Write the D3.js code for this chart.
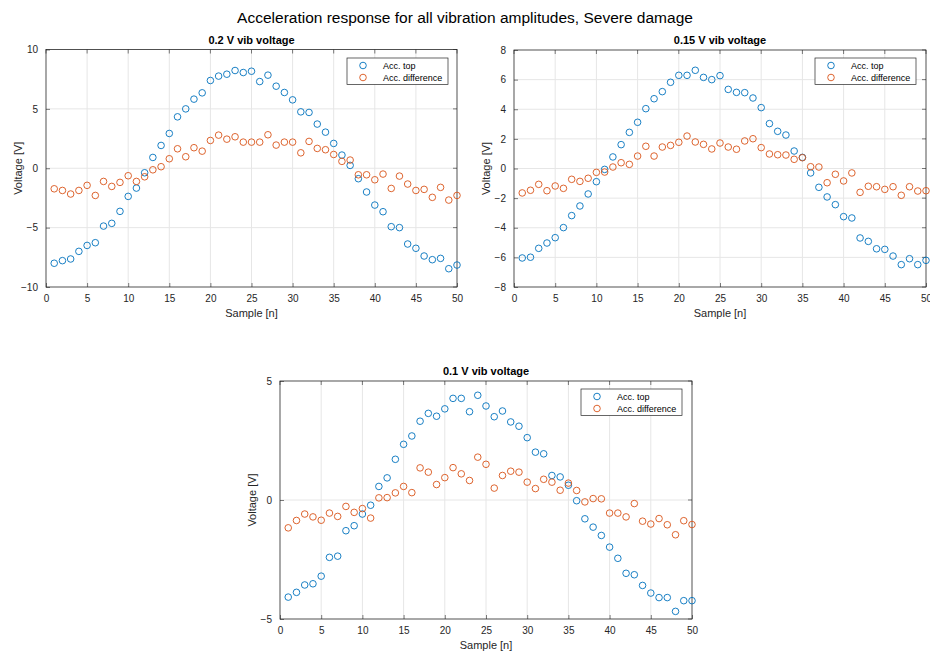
<!DOCTYPE html>
<html>
<head>
<meta charset="utf-8">
<script src="https://cdn.jsdelivr.net/npm/d3@7"></script>
<style>
  html, body { margin: 0; padding: 0; background: #ffffff; }
  svg { display: block; font-family: "Liberation Sans", Arial, Helvetica, sans-serif; }
</style>
</head>
<body>
<svg id="fig" width="930" height="655"></svg>
<script>
// Sample index shared by every panel
const samples = d3.range(1, 51);

// 0.2 V vibration voltage
const top02 = [-8.0, -7.78, -7.64, -7.0, -6.5, -6.27, -4.87, -4.64, -3.63, -2.37,
  -1.67, -0.38, 0.91, 1.92, 2.93, 4.33, 5.0, 5.82, 6.35, 7.39,
  7.76, 7.92, 8.23, 8.06, 8.17, 7.3, 7.84, 6.91, 6.38, 5.76,
  4.75, 4.7, 3.72, 3.04, 2.09, 1.11, 0.24, -0.88, -2.0, -3.1,
  -3.66, -4.92, -5.0, -6.38, -6.74, -7.39, -7.7, -7.59, -8.46, -8.15];
const diff02 = [-1.73, -1.87, -2.17, -1.87, -1.44, -2.29, -1.11, -1.53, -1.19, -0.63,
  -1.11, -0.72, -0.13, 0.13, 0.8, 1.64, 0.97, 1.73, 1.44, 2.34,
  2.79, 2.45, 2.65, 2.2, 2.2, 2.2, 2.82, 1.95, 2.2, 2.2,
  1.3, 2.26, 1.67, 1.56, 1.16, 0.58, 0.69, -0.55, -0.55, -0.97,
  -0.49, -1.7, -0.66, -1.33, -1.87, -1.78, -2.45, -1.61, -2.68, -2.29];

// 0.15 V vibration voltage
const top015 = [-6.04, -5.99, -5.39, -5.03, -4.67, -3.99, -3.18, -2.53, -1.72, -0.89,
  -0.06, 0.78, 1.61, 2.44, 3.12, 4.04, 4.71, 5.19, 5.82, 6.29,
  6.29, 6.63, 6.15, 6.0, 6.27, 5.34, 5.14, 5.12, 4.76, 4.11,
  3.03, 2.51, 2.26, 1.18, 0.75, -0.3, -1.27, -1.92, -2.44, -3.25,
  -3.34, -4.69, -4.92, -5.42, -5.46, -5.91, -6.49, -6.09, -6.49, -6.2];
const diff015 = [-1.65, -1.47, -1.07, -1.5, -1.18, -1.34, -0.73, -0.87, -0.66, -0.26,
  -0.24, 0.1, 0.39, 0.28, 0.84, 1.5, 0.84, 1.45, 1.56, 1.77,
  2.19, 1.79, 1.63, 1.32, 1.72, 1.45, 1.3, 1.86, 2.01, 1.41,
  0.98, 0.93, 0.91, 0.62, 0.73, 0.12, 0.1, -0.96, -0.39, -0.84,
  -0.3, -1.61, -1.2, -1.23, -1.41, -1.23, -1.81, -1.23, -1.52, -1.5];

// 0.1 V vibration voltage
const top01 = [-4.08, -3.88, -3.57, -3.52, -3.2, -2.41, -2.36, -1.29, -1.08, -0.59,
  -0.22, 0.57, 0.93, 1.71, 2.34, 2.69, 3.31, 3.64, 3.52, 3.83,
  4.27, 4.27, 3.71, 4.4, 3.95, 3.5, 3.74, 3.28, 3.1, 2.62,
  2.01, 1.94, 1.03, 0.97, 0.62, -0.03, -0.79, -1.14, -1.49, -1.98,
  -2.45, -3.08, -3.14, -3.59, -3.91, -4.1, -4.1, -4.68, -4.23, -4.23];
const diff01 = [-1.17, -0.86, -0.59, -0.71, -0.85, -0.55, -0.69, -0.27, -0.52, -0.36,
  -0.76, 0.09, 0.1, 0.3, 0.57, 0.31, 1.35, 1.17, 0.65, 0.94,
  1.36, 1.1, 0.82, 1.8, 1.5, 0.5, 1.03, 1.21, 1.17, 0.75,
  0.48, 0.87, 0.75, 0.41, 0.71, 0.4, -0.08, 0.06, 0.05, -0.55,
  -0.55, -0.71, -0.15, -0.89, -1.01, -0.78, -1.04, -1.46, -0.87, -1.03];

// Axis tick labels
const xTicks = [0, 5, 10, 15, 20, 25, 30, 35, 40, 45, 50];
const yTicks02 = [-10, -5, 0, 5, 10];
const yTicks015 = [-8, -6, -4, -2, 0, 2, 4, 6, 8];
const yTicks01 = [-5, 0, 5];

const seriesNames = ["Acc. top", "Acc. difference"];
const seriesColors = ["#0072BD", "#D95319"];

const panels = [
  { title: "0.2 V vib voltage", top: top02, diff: diff02, yDomain: [-10, 10], yTicks: yTicks02,
    box: { x0: 46, x1: 457, y0: 49.5, y1: 287 }, legend: { x: 347, y: 58 } },
  { title: "0.15 V vib voltage", top: top015, diff: diff015, yDomain: [-8, 8], yTicks: yTicks015,
    box: { x0: 514, x1: 926, y0: 50, y1: 287 }, legend: { x: 815, y: 58 } },
  { title: "0.1 V vib voltage", top: top01, diff: diff01, yDomain: [-5, 5], yTicks: yTicks01,
    box: { x0: 280, x1: 692, y0: 381, y1: 619 }, legend: { x: 581, y: 389 } }
];

const svg = d3.select("#fig");
const axisColor = "#262626";

svg.append("text")
  .attr("x", 465).attr("y", 23)
  .attr("text-anchor", "middle")
  .attr("font-size", 15.5)
  .attr("fill", "#000")
  .text("Acceleration response for all vibration amplitudes, Severe damage");

panels.forEach(p => {
  const b = p.box;
  const x = d3.scaleLinear().domain([0, 50]).range([b.x0, b.x1]);
  const y = d3.scaleLinear().domain(p.yDomain).range([b.y1, b.y0]);
  const g = svg.append("g");

  // grid
  g.append("g").selectAll("line").data(xTicks.slice(1, -1)).join("line")
    .attr("x1", d => x(d)).attr("x2", d => x(d))
    .attr("y1", b.y0).attr("y2", b.y1)
    .attr("stroke", "#e6e6e6").attr("stroke-width", 1);
  g.append("g").selectAll("line").data(p.yTicks.slice(1, -1)).join("line")
    .attr("x1", b.x0).attr("x2", b.x1)
    .attr("y1", d => y(d)).attr("y2", d => y(d))
    .attr("stroke", "#e6e6e6").attr("stroke-width", 1);

  // axes with inward ticks
  const xAxis = d3.axisBottom(x).tickValues(xTicks).tickSizeInner(-4).tickSizeOuter(0).tickPadding(8);
  const yAxis = d3.axisLeft(y).tickValues(p.yTicks).tickSizeInner(-4).tickSizeOuter(0).tickPadding(8);
  const gx = g.append("g").attr("transform", `translate(0,${b.y1})`).call(xAxis);
  const gy = g.append("g").attr("transform", `translate(${b.x0},0)`).call(yAxis);
  [gx, gy].forEach(a => {
    a.select(".domain").remove();
    a.selectAll(".tick line").attr("stroke", axisColor).attr("stroke-width", 0.6);
    a.selectAll(".tick text").attr("fill", axisColor).attr("font-size", 10)
      .attr("font-family", "'Liberation Sans', Arial, sans-serif");
  });
  // top/right ticks
  g.append("g").selectAll("line").data(xTicks).join("line")
    .attr("x1", d => x(d)).attr("x2", d => x(d))
    .attr("y1", b.y0).attr("y2", b.y0 + 4)
    .attr("stroke", axisColor).attr("stroke-width", 0.6);
  g.append("g").selectAll("line").data(p.yTicks).join("line")
    .attr("x1", b.x1 - 4).attr("x2", b.x1)
    .attr("y1", d => y(d)).attr("y2", d => y(d))
    .attr("stroke", axisColor).attr("stroke-width", 0.6);

  // box
  g.append("rect")
    .attr("x", b.x0).attr("y", b.y0)
    .attr("width", b.x1 - b.x0).attr("height", b.y1 - b.y0)
    .attr("fill", "none").attr("stroke", axisColor).attr("stroke-width", 0.8);

  // titles and labels
  g.append("text")
    .attr("x", (b.x0 + b.x1) / 2).attr("y", b.y0 - 6)
    .attr("text-anchor", "middle").attr("font-size", 11).attr("font-weight", "bold")
    .attr("fill", "#000").text(p.title);
  g.append("text")
    .attr("x", (b.x0 + b.x1) / 2).attr("y", b.y1 + 30)
    .attr("text-anchor", "middle").attr("font-size", 11)
    .attr("fill", axisColor).text("Sample [n]");
  g.append("text")
    .attr("transform", `translate(${b.x0 - 24},${(b.y0 + b.y1) / 2}) rotate(-90)`)
    .attr("text-anchor", "middle").attr("font-size", 11)
    .attr("fill", axisColor).text("Voltage [V]");

  // markers
  [p.top, p.diff].forEach((vals, i) => {
    g.append("g").selectAll("circle").data(vals).join("circle")
      .attr("cx", (d, k) => x(samples[k]))
      .attr("cy", d => y(d))
      .attr("r", 3.3)
      .attr("fill", "none")
      .attr("stroke", seriesColors[i])
      .attr("stroke-width", 0.9);
  });

  // legend
  const L = p.legend;
  const lg = g.append("g").attr("transform", `translate(${L.x},${L.y})`);
  lg.append("rect").attr("width", 101).attr("height", 26.5)
    .attr("fill", "#fff").attr("stroke", axisColor).attr("stroke-width", 0.7);
  seriesNames.forEach((name, i) => {
    const yy = 7.5 + i * 12;
    lg.append("circle").attr("cx", 16).attr("cy", yy).attr("r", 3.3)
      .attr("fill", "none").attr("stroke", seriesColors[i]).attr("stroke-width", 0.9);
    lg.append("text").attr("x", 36).attr("y", yy + 3.3)
      .attr("font-size", 9).attr("fill", "#000").text(name);
  });
});
</script>
</body>
</html>
